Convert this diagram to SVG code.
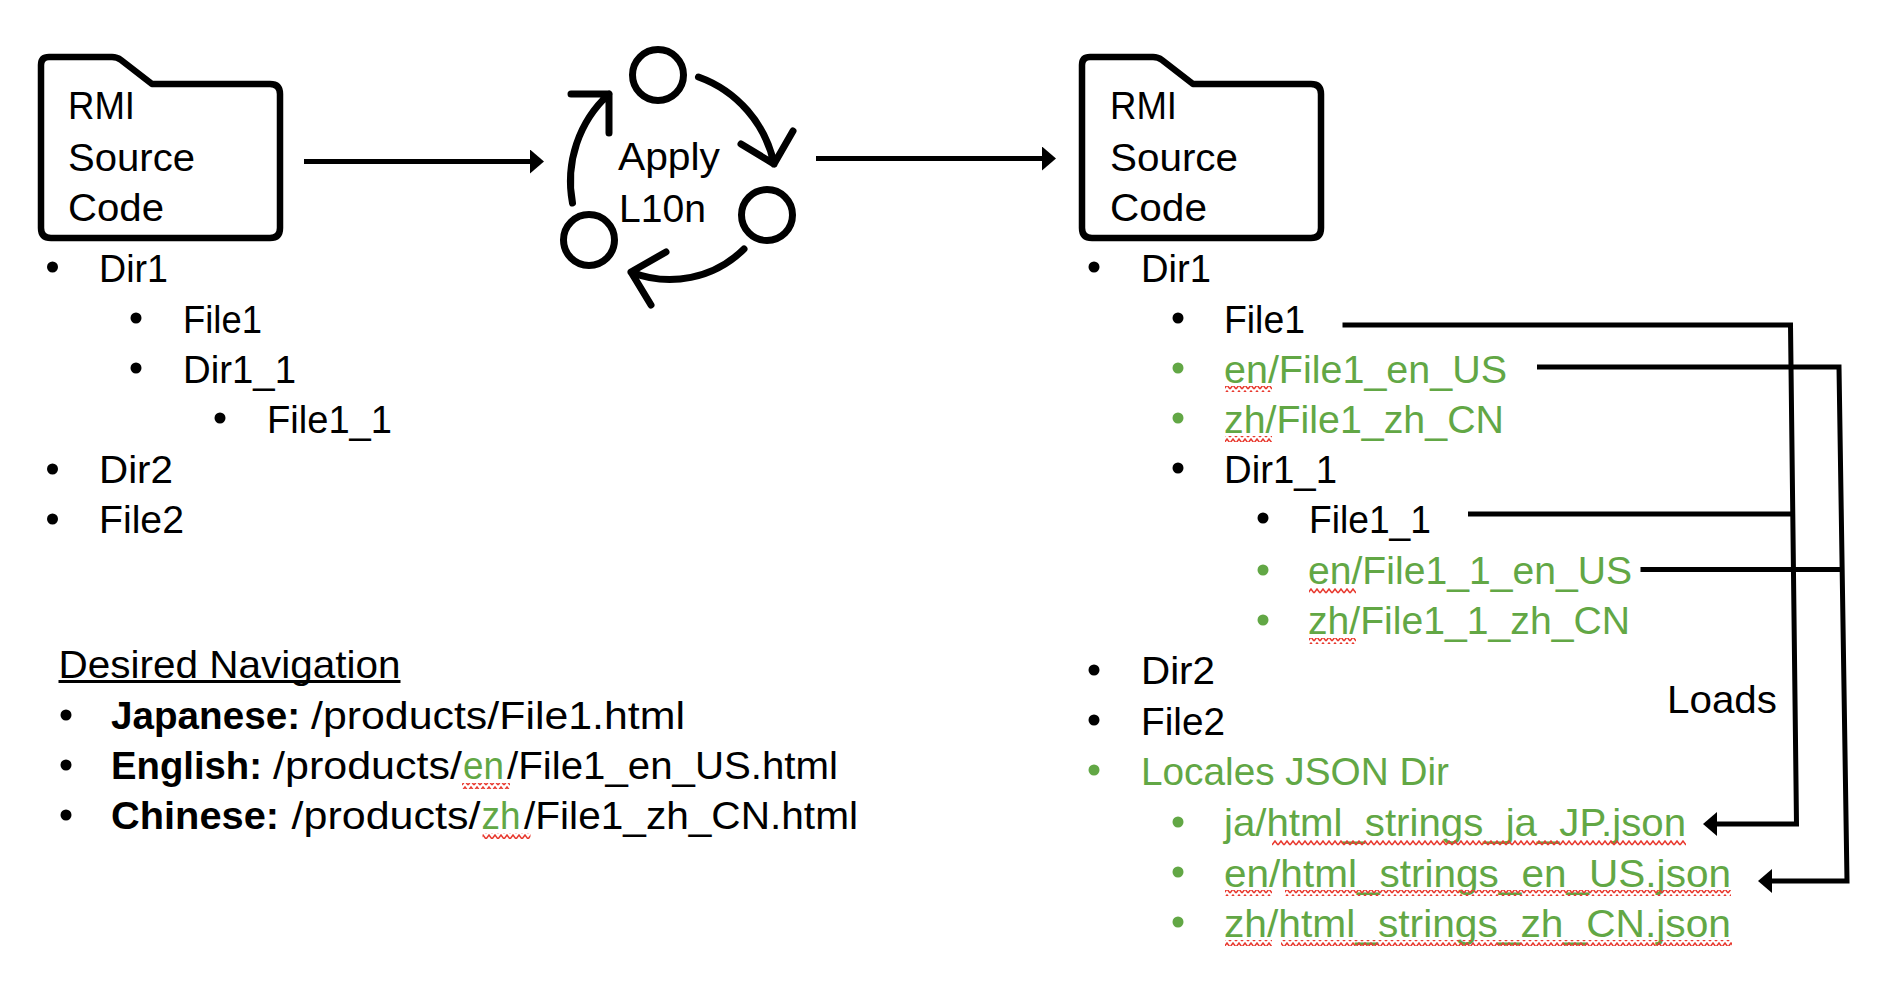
<svg xmlns="http://www.w3.org/2000/svg" width="1880" height="996" viewBox="0 0 1880 996">
<style>
text{font-family:"Liberation Sans",Arial,sans-serif;font-size:39px;fill:#000}
.g{fill:#62a745}
.b{font-weight:700}
.d{fill:#000}
.dg{fill:#62a745}
.ln{fill:none;stroke:#000;stroke-width:5}
.ic{fill:none;stroke:#000;stroke-width:7;stroke-linecap:round;stroke-linejoin:round}
.sq{fill:url(#squiggle)}
</style>
<defs>
<marker id="head" markerUnits="userSpaceOnUse" markerWidth="14" markerHeight="24" viewBox="0 0 14 24" refX="0" refY="12" orient="auto"><path d="M0 0L14 12L0 24Z" fill="#000"/></marker>
<pattern id="squiggle" patternUnits="userSpaceOnUse" width="6" height="6"><path d="M0 5L3 1L6 5" fill="none" stroke="#e8392f" stroke-width="1.5"/></pattern>
<path id="folder" d="M49 57H112Q117 57 121 60L152 84H270Q280 84 280 94V228Q280 238 270 238H51Q41 238 41 228V65Q41 57 49 57Z" fill="none" stroke="#000" stroke-width="6.5" stroke-linejoin="round"/>
</defs>
<rect width="1880" height="996" fill="#fff"/>

<g id="source-folder">
<use href="#folder"/>
<text x="68" y="119" textLength="67" lengthAdjust="spacingAndGlyphs">RMI</text>
<text x="68" y="171" textLength="127" lengthAdjust="spacingAndGlyphs">Source</text>
<text x="68" y="221" textLength="96" lengthAdjust="spacingAndGlyphs">Code</text>
</g>

<g id="source-tree">
<circle class="d" cx="52.500" cy="267" r="5.500"/><text x="99" y="282" textLength="69" lengthAdjust="spacingAndGlyphs">Dir1</text>
<circle class="d" cx="136" cy="318" r="5.500"/><text x="183" y="333" textLength="79" lengthAdjust="spacingAndGlyphs">File1</text>
<circle class="d" cx="136" cy="368" r="5.500"/><text x="183" y="383" textLength="113" lengthAdjust="spacingAndGlyphs">Dir1_1</text>
<circle class="d" cx="220" cy="418" r="5.500"/><text x="267" y="433" textLength="125" lengthAdjust="spacingAndGlyphs">File1_1</text>
<circle class="d" cx="52.500" cy="469" r="5.500"/><text x="99" y="483" textLength="74" lengthAdjust="spacingAndGlyphs">Dir2</text>
<circle class="d" cx="52.500" cy="519" r="5.500"/><text x="99" y="533" textLength="85" lengthAdjust="spacingAndGlyphs">File2</text>
</g>

<g id="apply-l10n">
<circle class="ic" cx="658" cy="75" r="25.500"/>
<circle class="ic" cx="767" cy="215" r="25.500"/>
<circle class="ic" cx="589" cy="240" r="25.500"/>
<path class="ic" d="M698.500 77A118 118 0 0 1 774 164M741 144L774 164L793 131"/>
<path class="ic" d="M744 249A105 105 0 0 1 631 272M666 252L631 272L651 305"/>
<path class="ic" d="M572.500 203A118 118 0 0 1 609 94M571 94H609V133"/>
<text x="618" y="170" textLength="102" lengthAdjust="spacingAndGlyphs">Apply</text>
<text x="619" y="222" textLength="87" lengthAdjust="spacingAndGlyphs">L10n</text>
</g>

<g id="output-folder">
<use href="#folder" x="1041"/>
<text x="1110" y="119" textLength="67" lengthAdjust="spacingAndGlyphs">RMI</text>
<text x="1110" y="171" textLength="128" lengthAdjust="spacingAndGlyphs">Source</text>
<text x="1110" y="221" textLength="97" lengthAdjust="spacingAndGlyphs">Code</text>
</g>

<g id="output-tree">
<circle class="d" cx="1094" cy="267" r="5.500"/><text x="1141" y="282" textLength="70" lengthAdjust="spacingAndGlyphs">Dir1</text>
<circle class="d" cx="1178" cy="318" r="5.500"/><text x="1224" y="333" textLength="81" lengthAdjust="spacingAndGlyphs">File1</text>
<circle class="dg" cx="1178" cy="368" r="5.500"/><text class="g" x="1224" y="383" textLength="283" lengthAdjust="spacingAndGlyphs">en/File1_en_US</text>
<rect class="sq" x="1225" y="386" width="47" height="6"/>
<circle class="dg" cx="1178" cy="418" r="5.500"/><text class="g" x="1224" y="433" textLength="280" lengthAdjust="spacingAndGlyphs">zh/File1_zh_CN</text>
<rect class="sq" x="1225" y="436" width="47" height="6"/>
<circle class="d" cx="1178" cy="468" r="5.500"/><text x="1224" y="483" textLength="113" lengthAdjust="spacingAndGlyphs">Dir1_1</text>
<circle class="d" cx="1263" cy="518" r="5.500"/><text x="1309" y="533" textLength="122" lengthAdjust="spacingAndGlyphs">File1_1</text>
<circle class="dg" cx="1263" cy="570" r="5.500"/><text class="g" x="1308" y="584" textLength="324" lengthAdjust="spacingAndGlyphs">en/File1_1_en_US</text>
<rect class="sq" x="1309" y="588" width="47" height="6"/>
<circle class="dg" cx="1263" cy="620" r="5.500"/><text class="g" x="1308" y="634" textLength="322" lengthAdjust="spacingAndGlyphs">zh/File1_1_zh_CN</text>
<rect class="sq" x="1309" y="638" width="47" height="6"/>
<circle class="d" cx="1094" cy="670" r="5.500"/><text x="1141" y="684" textLength="74" lengthAdjust="spacingAndGlyphs">Dir2</text>
<circle class="d" cx="1094" cy="720" r="5.500"/><text x="1141" y="735" textLength="84" lengthAdjust="spacingAndGlyphs">File2</text>
<circle class="dg" cx="1094" cy="770" r="5.500"/><text class="g" x="1141" y="785" textLength="308" lengthAdjust="spacingAndGlyphs">Locales JSON Dir</text>
<circle class="dg" cx="1178" cy="822" r="5.500"/><text class="g" x="1224" y="836" textLength="462" lengthAdjust="spacingAndGlyphs">ja/html_strings_ja_JP.json</text>
<rect class="sq" x="1272" y="840" width="414" height="6"/>
<circle class="dg" cx="1178" cy="872" r="5.500"/><text class="g" x="1224" y="887" textLength="507" lengthAdjust="spacingAndGlyphs">en/html_strings_en_US.json</text>
<rect class="sq" x="1225" y="890" width="47" height="6"/><rect class="sq" x="1285" y="890" width="446" height="6"/>
<circle class="dg" cx="1178" cy="922" r="5.500"/><text class="g" x="1224" y="937" textLength="507" lengthAdjust="spacingAndGlyphs">zh/html_strings_zh_CN.json</text>
<rect class="sq" x="1225" y="940" width="47" height="6"/><rect class="sq" x="1281" y="940" width="451" height="6"/>
</g>

<g id="desired-navigation">
<text x="58.500" y="678" textLength="342" lengthAdjust="spacingAndGlyphs">Desired Navigation</text>
<rect x="58.500" y="680" width="342" height="3"/>
<circle class="d" cx="66" cy="715" r="5.500"/>
<text class="b" x="111" y="729" textLength="189" lengthAdjust="spacingAndGlyphs">Japanese:</text>
<text x="311" y="729" textLength="374" lengthAdjust="spacingAndGlyphs">/products/File1.html</text>
<circle class="d" cx="66" cy="765" r="5.500"/>
<text class="b" x="111" y="779" textLength="151" lengthAdjust="spacingAndGlyphs">English:</text>
<text x="273" y="779" textLength="189" lengthAdjust="spacingAndGlyphs">/products/</text>
<text class="g" x="463" y="779" textLength="41" lengthAdjust="spacingAndGlyphs">en</text>
<text x="507" y="779" textLength="331" lengthAdjust="spacingAndGlyphs">/File1_en_US.html</text>
<rect class="sq" x="462" y="783" width="48" height="6"/>
<circle class="d" cx="66" cy="815" r="5.500"/>
<text class="b" x="111" y="829" textLength="168" lengthAdjust="spacingAndGlyphs">Chinese:</text>
<text x="291.500" y="829" textLength="189" lengthAdjust="spacingAndGlyphs">/products/</text>
<text class="g" x="481.500" y="829" textLength="39" lengthAdjust="spacingAndGlyphs">zh</text>
<text x="524" y="829" textLength="334" lengthAdjust="spacingAndGlyphs">/File1_zh_CN.html</text>
<rect class="sq" x="482.500" y="833" width="48" height="6"/>
</g>

<g id="connectors">
<path class="ln" d="M304 161.500H530" marker-end="url(#head)"/>
<path class="ln" d="M816 158.500H1042" marker-end="url(#head)"/>
<path class="ln" d="M1342.500 325H1790.500L1796.500 824H1717" marker-end="url(#head)"/>
<path class="ln" d="M1537 367H1839L1847 881H1772" marker-end="url(#head)"/>
<path class="ln" d="M1468 514H1793"/>
<path class="ln" d="M1640.500 569.500H1843"/>
</g>

<g id="loads-label">
<text x="1667" y="713" textLength="110" lengthAdjust="spacingAndGlyphs">Loads</text>
</g>
</svg>
